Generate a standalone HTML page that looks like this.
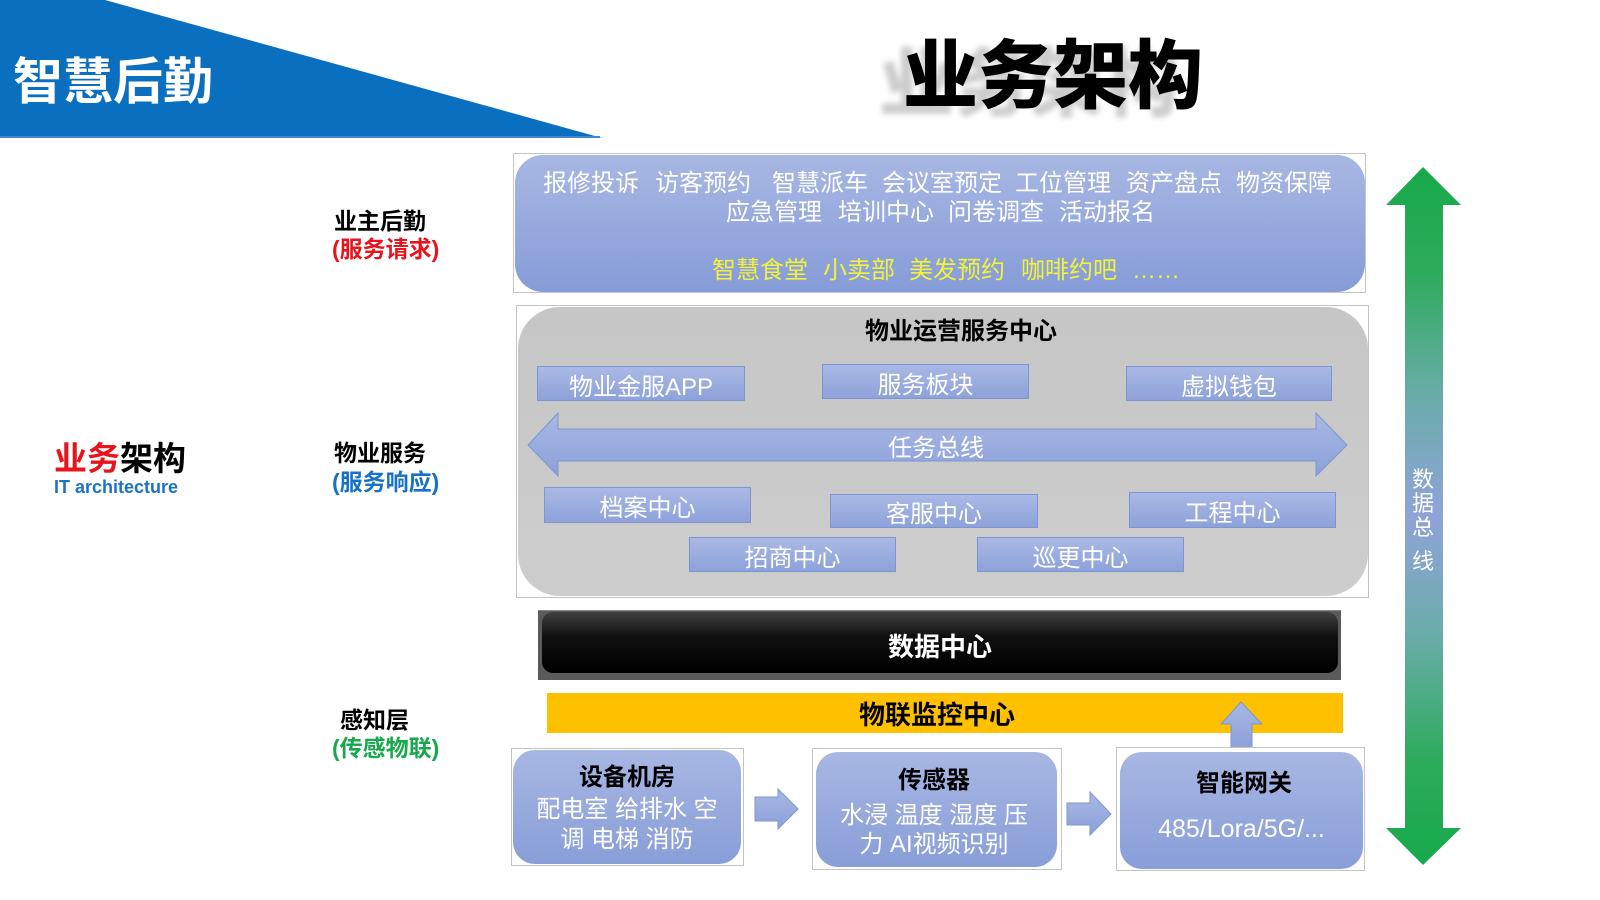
<!DOCTYPE html>
<html><head><meta charset="utf-8">
<style>
*{margin:0;padding:0;box-sizing:border-box}
body{width:1600px;height:900px;background:#fff;position:relative;overflow:hidden;font-family:"Liberation Sans","Noto Sans CJK SC",sans-serif}
.t{position:absolute;white-space:nowrap;line-height:1}
.w{color:#fff;font-size:24px;height:24px;line-height:24px}
.y{color:#f2f23a;font-size:24px;height:24px;line-height:24px}
.sb{position:absolute;background:linear-gradient(#aab9e5,#8da2da);border:1px solid #7d95d0;color:#fff;font-size:24px;display:flex;align-items:center;justify-content:center;padding-top:8px;line-height:1;white-space:nowrap}
.frame{position:absolute;border:1px solid #c4c4c4;background:#fff}
.rb{position:absolute;background:linear-gradient(#a8b7e3,#889ed8)}
.lbl{font-size:23px;font-weight:700;height:23px;line-height:23px}
.c{text-align:center}
</style></head><body>

<!-- banner -->
<svg style="position:absolute;left:0;top:0" width="620" height="145">
  <polygon points="0,0 105,0 602,138 0,138" fill="#0b6fc0"/>
  <line x1="0" y1="137" x2="600" y2="137" stroke="#3d8ad0" stroke-width="2"/>
</svg>
<div class="t" style="left:13px;top:57px;font-size:50px;height:50px;line-height:50px;color:#fff;font-weight:700">智慧后勤</div>

<!-- title -->
<div class="t" style="left:903px;top:39px;font-size:75px;height:75px;line-height:75px;font-weight:900;color:#000;text-shadow:-24px 8px 6px rgba(0,0,0,0.2)">业务架构</div>

<!-- left labels -->
<div class="t" style="left:54px;top:442px;font-size:33px;height:33px;line-height:33px;font-weight:700"><span style="color:#e8141c">业务</span><span style="color:#000">架构</span></div>
<div class="t" style="left:54px;top:478px;font-size:18px;height:18px;line-height:18px;font-weight:700;color:#1a73c4">IT architecture</div>

<div class="t lbl" style="left:334px;top:210px;color:#000">业主后勤</div>
<div class="t lbl" style="left:332px;top:238px;color:#e8141c">(服务请求)</div>
<div class="t lbl" style="left:334px;top:442px;color:#000">物业服务</div>
<div class="t lbl" style="left:332px;top:471px;color:#1572c6">(服务响应)</div>
<div class="t lbl" style="left:340px;top:709px;color:#000">感知层</div>
<div class="t lbl" style="left:332px;top:737px;color:#16a84a">(传感物联)</div>

<!-- top box -->
<div class="frame" style="left:513px;top:153px;width:853px;height:140px"></div>
<div class="rb" style="left:515px;top:155px;width:850px;height:137px;border-radius:28px;background:linear-gradient(#a8b7e3,#869cd8)"></div>
<div class="t w" style="left:543px;top:172px">报修投诉</div>
<div class="t w" style="left:655px;top:172px">访客预约</div>
<div class="t w" style="left:772px;top:172px">智慧派车</div>
<div class="t w" style="left:882px;top:172px">会议室预定</div>
<div class="t w" style="left:1015px;top:172px">工位管理</div>
<div class="t w" style="left:1126px;top:172px">资产盘点</div>
<div class="t w" style="left:1236px;top:172px">物资保障</div>
<div class="t w" style="left:726px;top:201px">应急管理</div>
<div class="t w" style="left:838px;top:201px">培训中心</div>
<div class="t w" style="left:948px;top:201px">问卷调查</div>
<div class="t w" style="left:1059px;top:201px">活动报名</div>
<div class="t y" style="left:712px;top:259px">智慧食堂</div>
<div class="t y" style="left:823px;top:259px">小卖部</div>
<div class="t y" style="left:909px;top:259px">美发预约</div>
<div class="t y" style="left:1021px;top:259px">咖啡约吧</div>
<div class="t y" style="left:1132px;top:259px">……</div>

<!-- gray box -->
<div class="frame" style="left:516px;top:305px;width:853px;height:293px"></div>
<div style="position:absolute;left:518px;top:307px;width:850px;height:289px;border-radius:42px;background:linear-gradient(#c6c6c6,#cdcdcd)"></div>
<div class="t" style="left:865px;top:320px;font-size:24px;height:24px;line-height:24px;font-weight:700;color:#000">物业运营服务中心</div>

<div class="sb" style="left:537px;top:366px;width:208px;height:35px">物业金服APP</div>
<div class="sb" style="left:822px;top:364px;width:207px;height:35px">服务板块</div>
<div class="sb" style="left:1126px;top:366px;width:206px;height:35px">虚拟钱包</div>

<svg style="position:absolute;left:0;top:0" width="1600" height="900">
  <defs>
    <linearGradient id="bg1" x1="0" y1="0" x2="0" y2="1">
      <stop offset="0" stop-color="#a9b8e4"/><stop offset="1" stop-color="#8ca1da"/>
    </linearGradient>
    <linearGradient id="gr" gradientUnits="userSpaceOnUse" x1="0" y1="167" x2="0" y2="865">
      <stop offset="0" stop-color="#17a94b"/>
      <stop offset="0.15" stop-color="#2dab5c"/>
      <stop offset="0.33" stop-color="#6aacaa"/>
      <stop offset="0.5" stop-color="#90a3d8"/>
      <stop offset="0.67" stop-color="#6aacaa"/>
      <stop offset="0.85" stop-color="#2dab5c"/>
      <stop offset="1" stop-color="#17a94b"/>
    </linearGradient>
  </defs>
  <!-- task bus double arrow -->
  <polygon points="528,445 558,413 558,429 1316,429 1316,413 1347,445 1316,476 1316,461 558,461 558,476" fill="url(#bg1)" stroke="#7d95d0" stroke-width="1"/>
  <!-- bottom small arrows -->
  <polygon points="755,797 778,797 778,789 798,809 778,829 778,821 755,821" fill="url(#bg1)" stroke="#7d95d0" stroke-width="1"/>
  <polygon points="1067,803 1090,803 1090,792 1111,814 1090,835 1090,825 1067,825" fill="url(#bg1)" stroke="#7d95d0" stroke-width="1"/>
  <!-- green double arrow -->
  <polygon points="1423,167 1461,205 1443,205 1443,828 1461,828 1423,865 1386,828 1405,828 1405,205 1386,205" fill="url(#gr)"/>
</svg>
<div class="t w" style="left:888px;top:437px">任务总线</div>

<div class="sb" style="left:544px;top:487px;width:207px;height:36px">档案中心</div>
<div class="sb" style="left:830px;top:494px;width:208px;height:34px">客服中心</div>
<div class="sb" style="left:1129px;top:492px;width:207px;height:36px">工程中心</div>
<div class="sb" style="left:689px;top:537px;width:207px;height:35px">招商中心</div>
<div class="sb" style="left:977px;top:537px;width:207px;height:35px">巡更中心</div>

<!-- data bus vertical text -->
<div class="t" style="left:1411px;top:468px;font-size:22px;line-height:24px;color:#fff;width:24px;text-align:center">数<br>据<br>总</div>
<div class="t" style="left:1411px;top:550px;font-size:22px;line-height:24px;color:#fff;width:24px;text-align:center">线</div>

<!-- data center -->
<div style="position:absolute;left:538px;top:610px;width:803px;height:70px;background:#5a5a5a;border-top:1px solid #888"></div>
<div style="position:absolute;left:542px;top:612px;width:796px;height:61px;border-radius:11px;background:linear-gradient(#404040 0%,#101010 40%,#000 100%)"></div>
<div class="t c" style="left:542px;top:634px;width:796px;font-size:26px;height:26px;line-height:26px;font-weight:700;color:#fff">数据中心</div>

<!-- IoT monitoring -->
<div style="position:absolute;left:547px;top:693px;width:796px;height:40px;background:#ffc000"></div>
<div class="t" style="left:859px;top:702px;font-size:26px;height:26px;line-height:26px;font-weight:700;color:#000">物联监控中心</div>

<!-- up arrow (on top of yellow bar) -->
<svg style="position:absolute;left:0;top:0" width="1600" height="900">
  <defs>
    <linearGradient id="bg2" x1="0" y1="0" x2="0" y2="1">
      <stop offset="0" stop-color="#a9b8e4"/><stop offset="1" stop-color="#8ca1da"/>
    </linearGradient>
  </defs>
  <polygon points="1241,702 1262,724 1252,724 1252,748 1231,748 1231,724 1221,724" fill="url(#bg2)" stroke="#7d95d0" stroke-width="1"/>
</svg>

<!-- bottom boxes -->
<div class="frame" style="left:511px;top:748px;width:233px;height:118px"></div>
<div class="rb" style="left:513px;top:750px;width:228px;height:114px;border-radius:22px"></div>
<div class="t c" style="left:513px;top:766px;width:228px;font-size:24px;height:24px;line-height:24px;font-weight:700;color:#000">设备机房</div>
<div class="t c w" style="left:513px;top:798px;width:228px">配电室 给排水 空</div>
<div class="t c w" style="left:513px;top:828px;width:228px">调 电梯 消防</div>

<div class="frame" style="left:812px;top:748px;width:250px;height:122px"></div>
<div class="rb" style="left:816px;top:752px;width:241px;height:115px;border-radius:22px"></div>
<div class="t c" style="left:816px;top:769px;width:236px;font-size:24px;height:24px;line-height:24px;font-weight:700;color:#000">传感器</div>
<div class="t c w" style="left:816px;top:804px;width:236px">水浸 温度 湿度 压</div>
<div class="t c w" style="left:816px;top:833px;width:236px">力 AI视频识别</div>

<div class="frame" style="left:1116px;top:747px;width:249px;height:124px"></div>
<div class="rb" style="left:1120px;top:752px;width:243px;height:117px;border-radius:22px"></div>
<div class="t c" style="left:1120px;top:772px;width:248px;font-size:24px;height:24px;line-height:24px;font-weight:700;color:#000">智能网关</div>
<div class="t c" style="left:1120px;top:817px;width:243px;font-size:25px;height:25px;line-height:25px;color:#fff">485/Lora/5G/...</div>

</body></html>
